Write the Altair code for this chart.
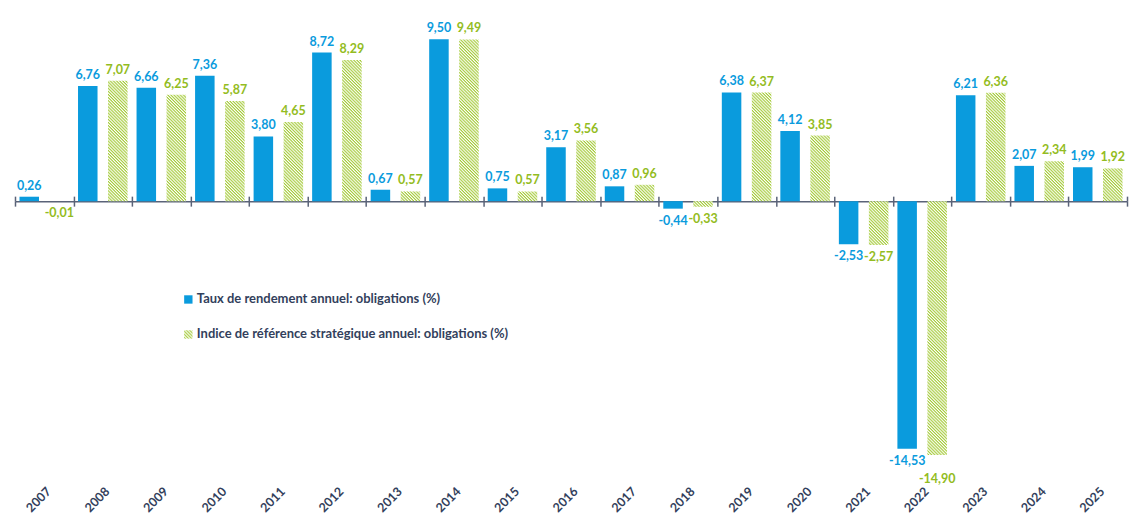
import pandas as pd
import altair as alt
import altair.utils.html as alt_html

# data
annees = [str(a) for a in range(2007, 2026)]
rendement = [0.26, 6.76, 6.66, 7.36, 3.80, 8.72, 0.67, 9.50, 0.75, 3.17, 0.87,
             -0.44, 6.38, 4.12, -2.53, -14.53, 6.21, 2.07, 1.99]
indice = [-0.01, 7.07, 6.25, 5.87, 4.65, 8.29, 0.57, 9.49, 0.57, 3.56, 0.96,
          -0.33, 6.37, 3.85, -2.57, -14.90, 6.36, 2.34, 1.92]
series = ["Taux de rendement annuel: obligations (%)",
          "Indice de référence stratégique annuel: obligations (%)"]

BLEU = "#0A9BDD"
VERT = "#93BC22"
MARINE = "#333F5C"
FONT = "Lato"

rows = []
for a, r, i in zip(annees, rendement, indice):
    for s, v in zip(series, [r, i]):
        rows.append({"annee": a, "serie": s, "valeur": v,
                     "label": f"{v:.2f}".replace(".", ",")})
df = pd.DataFrame(rows)

H = 452
Y_MIN, Y_MAX = -16, 10.5
y0 = H * Y_MAX / (Y_MAX - Y_MIN)  # pixel position of zero

x_scale = alt.Scale(paddingInner=0, paddingOuter=0)
off_scale = alt.Scale(domain=series, paddingInner=0.35, paddingOuter=0.15)
y_scale = alt.Scale(domain=[Y_MIN, Y_MAX], nice=False, zero=False)

base = alt.Chart(df)

bars = base.mark_bar().encode(
    x=alt.X("annee:N", scale=x_scale, title=None,
            axis=alt.Axis(orient="bottom", offset=-(H - y0), tickBand="extent",
                          domainColor="#5A6378", domainWidth=1.5,
                          tickColor="#5A6378", tickWidth=1.5, tickSize=5,
                          labelAngle=-45, labelPadding=279, labelFont=FONT,
                          labelFontSize=12.5, labelFontWeight="bold",
                          labelColor=MARINE)),
    xOffset=alt.XOffset("serie:N", scale=off_scale, sort=series),
    y=alt.Y("valeur:Q", scale=y_scale, axis=None),
    color=alt.Color("serie:N", sort=series,
                    scale=alt.Scale(domain=series, range=[BLEU, "url(#hatch)"]),
                    legend=alt.Legend(orient="none", legendX=167, legendY=271,
                                      title=None, symbolType="square",
                                      symbolSize=70, symbolStrokeWidth=0,
                                      labelFont=FONT, labelFontSize=13,
                                      labelFontWeight="bold", labelColor=MARINE,
                                      labelLimit=0, rowPadding=21, labelOffset=2)),
)

text_color = alt.condition(alt.datum.serie == series[0], alt.value(BLEU), alt.value(VERT))

pos_text = base.transform_filter(alt.datum.valeur >= 0).mark_text(
    baseline="bottom", dy=-4, font=FONT, fontSize=12.5, fontWeight="bold"
).encode(
    x=alt.X("annee:N", scale=x_scale,
            axis=alt.Axis(orient="top", offset=-y0, tickBand="extent",
                          domain=False, labels=False, tickColor="#5A6378",
                          tickWidth=1.5, tickSize=5), title=None),
    xOffset=alt.XOffset("serie:N", scale=off_scale, sort=series),
    y=alt.Y("valeur:Q", scale=y_scale, axis=None),
    text="label:N",
    color=text_color,
)

# negative labels; the very long benchmark bar gets its label pushed lower
# so that it clears its neighbour (as in the original)
neg_text = base.transform_filter(alt.datum.valeur < 0).transform_calculate(
    ylab=f"datum.serie == '{series[1]}' && datum.valeur < -10 ? datum.valeur - 0.7 : datum.valeur"
).mark_text(
    baseline="top", dy=6, font=FONT, fontSize=12.5, fontWeight="bold"
).encode(
    x=alt.X("annee:N", scale=x_scale, axis=None),
    xOffset=alt.XOffset("serie:N", scale=off_scale, sort=series),
    y=alt.Y("ylab:Q", scale=y_scale, axis=None),
    text="label:N",
    color=text_color,
)

chart = alt.layer(bars, pos_text, neg_text).resolve_axis(x="independent").properties(
    width=1113, height=H, padding={"left": 6, "top": 14, "right": 5, "bottom": 5}
).configure_view(stroke=None)

# hatch pattern used by the second series (svg renderer)
HATCH = """<svg width="0" height="0" style="position:absolute">
<defs>
<pattern id="hatch" patternUnits="userSpaceOnUse" width="2.2" height="2.2" patternTransform="rotate(45)">
<rect width="2.2" height="2.2" fill="white"/>
<rect width="2.2" height="1.1" fill="#A3CA36"/>
</pattern>
</defs>
</svg>"""


class HatchTemplate:
    def render(self, **kw):
        html = alt_html.TEMPLATES["standard"].render(**kw)
        return html.replace("<body>", "<body>\n" + HATCH, 1)


chart.save("out.html", embed_options={"renderer": "svg", "actions": False},
           template=HatchTemplate())
